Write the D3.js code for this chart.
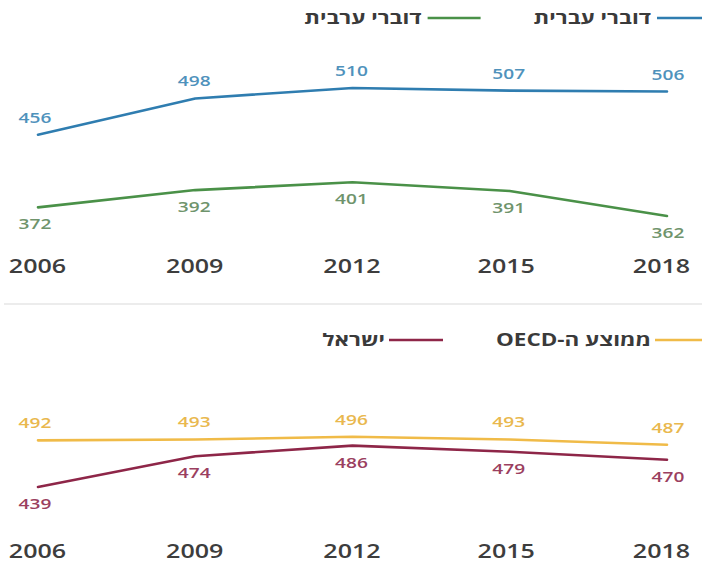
<!DOCTYPE html>
<html>
<head>
<meta charset="utf-8">
<script src="https://cdn.jsdelivr.net/npm/d3@7"></script>
<style>
  html, body { margin: 0; padding: 0; background: #fff; }
  svg { display: block; font-family: "Open Sans", "Noto Sans", sans-serif; }
</style>
</head>
<body>
<svg id="chart" width="702" height="565"></svg>
<script>
const years = ["2006", "2009", "2012", "2015", "2018"];
const hebrewSpeakers = [456, 498, 510, 507, 506];
const arabicSpeakers = [372, 392, 401, 391, 362];
const oecdAverage = [492, 493, 496, 493, 487];
const israel = [439, 474, 486, 479, 470];

const legendTop = [
  { name: "דוברי עברית", color: "#2f7db0" },
  { name: "דוברי ערבית", color: "#4a9148" }
];
const legendBottom = [
  { name: "ממוצע ה-OECD", color: "#f0bb48" },
  { name: "ישראל", color: "#8e2648" }
];

const SX = 1.32; // horizontal stretch of the typography
const svg = d3.select("#chart");
const x = d3.scalePoint().domain(years).range([38, 667]);

function panel(cfg) {
  const y = d3.scaleLinear().domain(cfg.domain).range(cfg.range);
  const g = svg.append("g");
  const line = d3.line().x((d, i) => x(years[i])).y(d => y(d));

  cfg.series.forEach(s => {
    g.append("path")
      .datum(s.values)
      .attr("d", line)
      .attr("fill", "none")
      .attr("stroke", s.color)
      .attr("stroke-width", 2.6)
      .attr("stroke-linejoin", "round")
      .attr("stroke-linecap", "round");
    g.selectAll(null)
      .data(s.values)
      .enter().append("text")
      .attr("transform", (d, i) =>
        `translate(${x(years[i]) - (i === 0 ? 3 : i === 4 ? -1 : 1)},${y(d) + (s.above ? -12 : 22)}) scale(${SX},1)`)
      .attr("text-anchor", "middle")
      .attr("font-size", 14.5)
      .attr("font-weight", 600)
      .attr("fill", s.labelColor)
      .text(d => d);
  });

  // x axis labels
  const axis = d3.axisBottom(x).tickSize(0).tickPadding(0);
  const ag = g.append("g").attr("transform", `translate(0,${cfg.axisY})`).call(axis);
  ag.select(".domain").remove();
  ag.selectAll("text")
    .attr("font-size", 19)
    .attr("font-weight", 600)
    .attr("fill", "#3d3d3d")
    .attr("font-family", "\"Open Sans\", sans-serif")
    .attr("transform", (d, i) => `translate(${i === 4 ? -6 : i === 3 ? -4 : -1},0) scale(${SX},1)`);

  // legend (RTL, from right)
  let right = 702;
  cfg.legend.forEach(l => {
    g.append("line")
      .attr("x1", right - l.lineW).attr("x2", right)
      .attr("y1", cfg.legendY).attr("y2", cfg.legendY)
      .attr("stroke", l.color).attr("stroke-width", 2.6);
    const t = g.append("text")
      .attr("transform", `translate(${right - l.lineW - l.pad},${cfg.legendY + 6}) scale(${SX},1)`)
      .attr("direction", "rtl")
      .attr("text-anchor", "start")
      .attr("font-size", 17)
      .attr("font-weight", 700)
      .attr("fill", "#3a3a3a")
      .text(l.name);
    const w = t.node().getComputedTextLength() * SX;
    right = right - l.lineW - l.pad - w - l.gap;
  });
}

panel({
  domain: [350, 520],
  range: [226.4, 79.4],
  axisY: 260,
  legendY: 18,
  legend: [
    Object.assign({}, legendTop[0], { lineW: 45, gap: 53, pad: 6 }),
    Object.assign({}, legendTop[1], { lineW: 53, gap: 0, pad: 6 })
  ],
  series: [
    { values: hebrewSpeakers, color: "#2f7db0", labelColor: "#4f92bc", above: true },
    { values: arabicSpeakers, color: "#4a9148", labelColor: "#6f946c", above: false }
  ]
});

// separator
svg.append("line")
  .attr("x1", 4).attr("x2", 702)
  .attr("y1", 304).attr("y2", 304)
  .attr("stroke", "#e6e6e6").attr("stroke-width", 1.5);

panel({
  domain: [430, 500],
  range: [494.9, 433.3],
  axisY: 545,
  legendY: 340,
  legend: [
    Object.assign({}, legendBottom[0], { lineW: 47, gap: 53, pad: 4 }),
    Object.assign({}, legendBottom[1], { lineW: 54, gap: 0, pad: 4 })
  ],
  series: [
    { values: oecdAverage, color: "#f0bb48", labelColor: "#e9b84e", above: true },
    { values: israel, color: "#8e2648", labelColor: "#9b3f60", above: false }
  ]
});
</script>
</body>
</html>
